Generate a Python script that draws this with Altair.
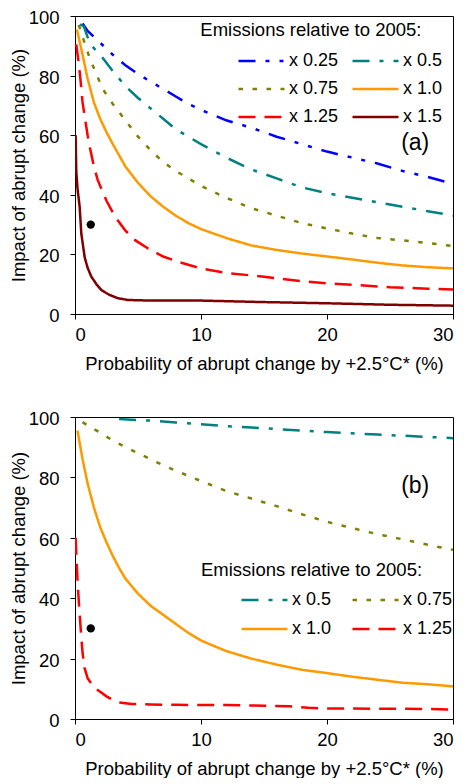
import altair as alt
import pandas as pd

FONT = "Liberation Sans"

# ---------------- Panel (a) data ----------------
a_x025 = [0.6, 1, 2, 3, 4, 5, 6, 7, 8, 9, 10, 12, 14, 16, 18, 20, 22, 24, 26, 28, 30]
a_y025 = [97.5, 95, 91, 87, 83.5, 80.5, 78, 75.5, 73, 70.5, 68.5, 65, 62.5, 59.5, 57, 54.5, 52.5, 50.5, 48, 46, 43.7]

a_x05 = [0.4, 0.7, 1.2, 2, 3, 4, 5, 6, 7, 8, 9, 10, 12, 14, 16, 18, 20, 22, 24, 26, 28, 30]
a_y05 = [97.2, 96.5, 90.5, 87, 81.5, 76.5, 72.5, 69, 65.5, 62, 59.5, 57, 52.5, 48.5, 45.5, 42.5, 40.5, 39, 37.5, 36, 34.5, 33]

a_x075 = [0.3, 0.8, 1.2, 1.7, 2.2, 3, 4, 5, 6, 7, 8, 9, 10, 12, 14, 16, 18, 20, 22, 24, 26, 28, 30]
a_y075 = [97, 90.5, 85.5, 80.5, 75.5, 70.5, 65, 59.5, 55, 51, 48, 45.5, 43, 39, 35.5, 33, 30.5, 28.7, 27, 25.5, 24.7, 23.8, 22.8]

a_x10 = [0.15, 0.6, 1, 1.5, 2, 2.5, 3, 4, 5, 6, 7, 8, 9, 10, 12, 14, 16, 18, 20, 22, 24, 26, 28, 30]
a_y10 = [95.5, 87, 79, 71, 65.5, 61, 57, 49.5, 44, 39.5, 36, 33, 30.5, 28.5, 25.5, 23, 21.5, 20.3, 19.3, 18.3, 17.2, 16.3, 15.7, 15.3]

a_x125 = [0.1, 0.3, 0.45, 0.6, 0.8, 1.0, 1.2, 1.5, 1.8, 2.5, 3.2, 4, 4.8, 5.8, 7, 8.2, 10, 12, 15, 18, 20, 22, 25, 28, 30]
a_y125 = [90.5, 84, 78, 71, 65.5, 60, 55.5, 49.5, 45, 38, 32.5, 28, 24.7, 22, 19.3, 17.5, 15.3, 13.8, 12.5, 11, 10.3, 9.8, 9, 8.5, 8.2]

a_x15 = [0.05, 0.1, 0.2, 0.37, 0.5, 0.77, 1, 1.3, 1.7, 2.1, 2.7, 3.4, 4.2, 6, 10, 15, 20, 25, 30]
a_y15 = [60, 48, 42, 36, 27, 19, 15.5, 12.5, 10, 8, 6.5, 5.3, 4.7, 4.5, 4.5, 4, 3.6, 3.1, 2.8]

# ---------------- Panel (b) data ----------------
b_x05 = [3.5, 6, 8, 10, 12, 14, 16, 18, 20, 22, 24, 26, 28, 30]
b_y05 = [99.3, 98.8, 98.2, 97.6, 97, 96.5, 96, 95.5, 95, 94.6, 94.2, 93.8, 93.4, 93]

b_x075 = [0.6, 1, 2, 3, 4, 5, 6, 7, 8, 9, 10, 12, 14, 16, 18, 20, 22, 24, 26, 28, 30]
b_y075 = [98.3, 97.2, 94.8, 92.2, 90, 88, 86, 84, 82.2, 80.5, 78.8, 75.5, 73, 70.5, 67.8, 65.3, 63.2, 61.2, 59.5, 57.7, 56]

b_x10 = [0.2, 0.6, 1, 1.5, 2, 2.5, 3, 3.5, 4, 5, 6, 7, 8, 9, 10, 12, 14, 16, 18, 20, 22, 24, 26, 28, 30]
b_y10 = [95.5, 86, 78, 70, 63.5, 58.5, 54, 50, 46.5, 41.5, 37.5, 34.5, 31.5, 28.5, 26, 22.5, 20, 18, 16.3, 15.2, 14, 13, 12, 11.5, 10.8]

b_x125 = [0.05, 0.12, 0.2, 0.3, 0.4, 0.5, 0.6, 0.75, 1, 1.5, 2, 2.5, 3, 3.5, 4.5, 6, 8, 10, 12, 15, 17, 18.5, 20, 25, 28, 30]
b_y125 = [60, 53, 46, 39, 33, 27, 22, 17, 13.5, 10.5, 9, 7.5, 6.3, 5.5, 5, 4.8, 4.7, 4.6, 4.6, 4.4, 4.2, 3.7, 3.5, 3.4, 3.3, 3.1]

# Observed point, panel labels, legend headers
dot_x = [1.25]
dot_y = [30]
label_text = ["(a)", "(b)"]
label_x = [27, 27]
label_y = [57.5, 77]
header_x = [9.95, 10.0]
header_y = [93.3, 47.4]

series_names = ["x 0.25", "x 0.5", "x 0.75", "x 1.0", "x 1.25", "x 1.5"]
series_colors = ["#0000FF", "#008080", "#808000", "#FF9900", "#FF0000", "#800000"]
series_dashes = [[17, 10, 4, 10, 4, 10], [17, 10, 4, 10], [4.5, 9.5], [1, 0], [17, 9], [1, 0]]

x_title = "Probability of abrupt change by +2.5°C* (%)"
y_title = "Impact of abrupt change (%)"
legend_title = "Emissions relative to 2005:"


def long_df(pairs):
    rows = []
    for name, xs, ys in pairs:
        for i, (xv, yv) in enumerate(zip(xs, ys)):
            rows.append({"series": name, "x": xv, "y": yv, "i": i})
    return pd.DataFrame(rows)


df_a = long_df([
    ("x 0.25", a_x025, a_y025), ("x 0.5", a_x05, a_y05), ("x 0.75", a_x075, a_y075),
    ("x 1.0", a_x10, a_y10), ("x 1.25", a_x125, a_y125), ("x 1.5", a_x15, a_y15),
])
df_b = long_df([
    ("x 0.5", b_x05, b_y05), ("x 0.75", b_x075, b_y075),
    ("x 1.0", b_x10, b_y10), ("x 1.25", b_x125, b_y125),
])

W = 378


def panel(df, names, k, lx, ly, colpad, rowpad, h):
    idx = [series_names.index(n) for n in names]
    dom = names
    cols = [series_colors[i] for i in idx]
    dashes = [series_dashes[i] for i in idx]
    leg = alt.Legend(
        title=None, orient="none", legendX=lx, legendY=ly, columns=2, direction="horizontal",
        symbolType="stroke", symbolSize=2116, symbolStrokeWidth=2.5, clipHeight=20,
        rowPadding=rowpad, columnPadding=colpad, labelOffset=3,
        labelFontSize=18, labelFont=FONT, labelColor="black", padding=0,
    )
    xenc = alt.X("x:Q", scale=alt.Scale(domain=[0, 30], nice=False),
                 axis=alt.Axis(values=[0, 10, 20, 30], title=x_title))
    yenc = alt.Y("y:Q", scale=alt.Scale(domain=[0, 100], nice=False),
                 axis=alt.Axis(values=[0, 20, 40, 60, 80, 100], title=y_title))
    lines = alt.Chart(df).mark_line(strokeWidth=2.5, clip=True).encode(
        x=xenc, y=yenc,
        color=alt.Color("series:N", scale=alt.Scale(domain=dom, range=cols), legend=leg),
        strokeDash=alt.StrokeDash("series:N", scale=alt.Scale(domain=dom, range=dashes), legend=leg),
        order="i:Q",
    )
    dot = alt.Chart(pd.DataFrame({"x": dot_x, "y": dot_y})).mark_circle(
        size=70, color="black", opacity=1).encode(x="x:Q", y="y:Q")
    lab = alt.Chart(pd.DataFrame({"t": [label_text[k]], "x": [label_x[k]],
                                  "y": [label_y[k]]})).mark_text(
        fontSize=23, font=FONT, color="black", align="center", baseline="middle").encode(
        x="x:Q", y="y:Q", text="t:N")
    head = alt.Chart(pd.DataFrame({"t": [legend_title], "x": [header_x[k]],
                                   "y": [header_y[k]]})).mark_text(
        fontSize=18.5, font=FONT, color="black", align="left", baseline="alphabetic").encode(
        x="x:Q", y="y:Q", text="t:N")
    return alt.layer(lines, dot, lab, head).properties(width=W, height=h)


pa = panel(df_a, series_names, 0, 162, 35, 12, 8, 298)
pb = panel(df_b, ["x 0.5", "x 0.75", "x 1.0", "x 1.25"], 1, 165, 173, 19, 9, 302)

chart = alt.vconcat(pa, pb, spacing=36).resolve_scale(
    color="independent", strokeDash="independent").resolve_legend(
    color="independent", strokeDash="independent").properties(
    padding={"left": 0, "top": 0, "right": 0, "bottom": 0}
).configure_view(stroke="black", strokeWidth=1).configure_axis(
    grid=False, tickSize=5, tickColor="black", domainColor="black",
    labelFont=FONT, labelFontSize=18.5, labelColor="black",
    titleFont=FONT, titleFontSize=18.5, titleFontWeight="normal", titleColor="black",
).configure_axisY(labelPadding=11, titlePadding=0, labelOffset=1.5).configure_axisX(
    labelPadding=6.5, titlePadding=10)

chart.save("out.html", embed_options={"renderer": "svg", "actions": False})
